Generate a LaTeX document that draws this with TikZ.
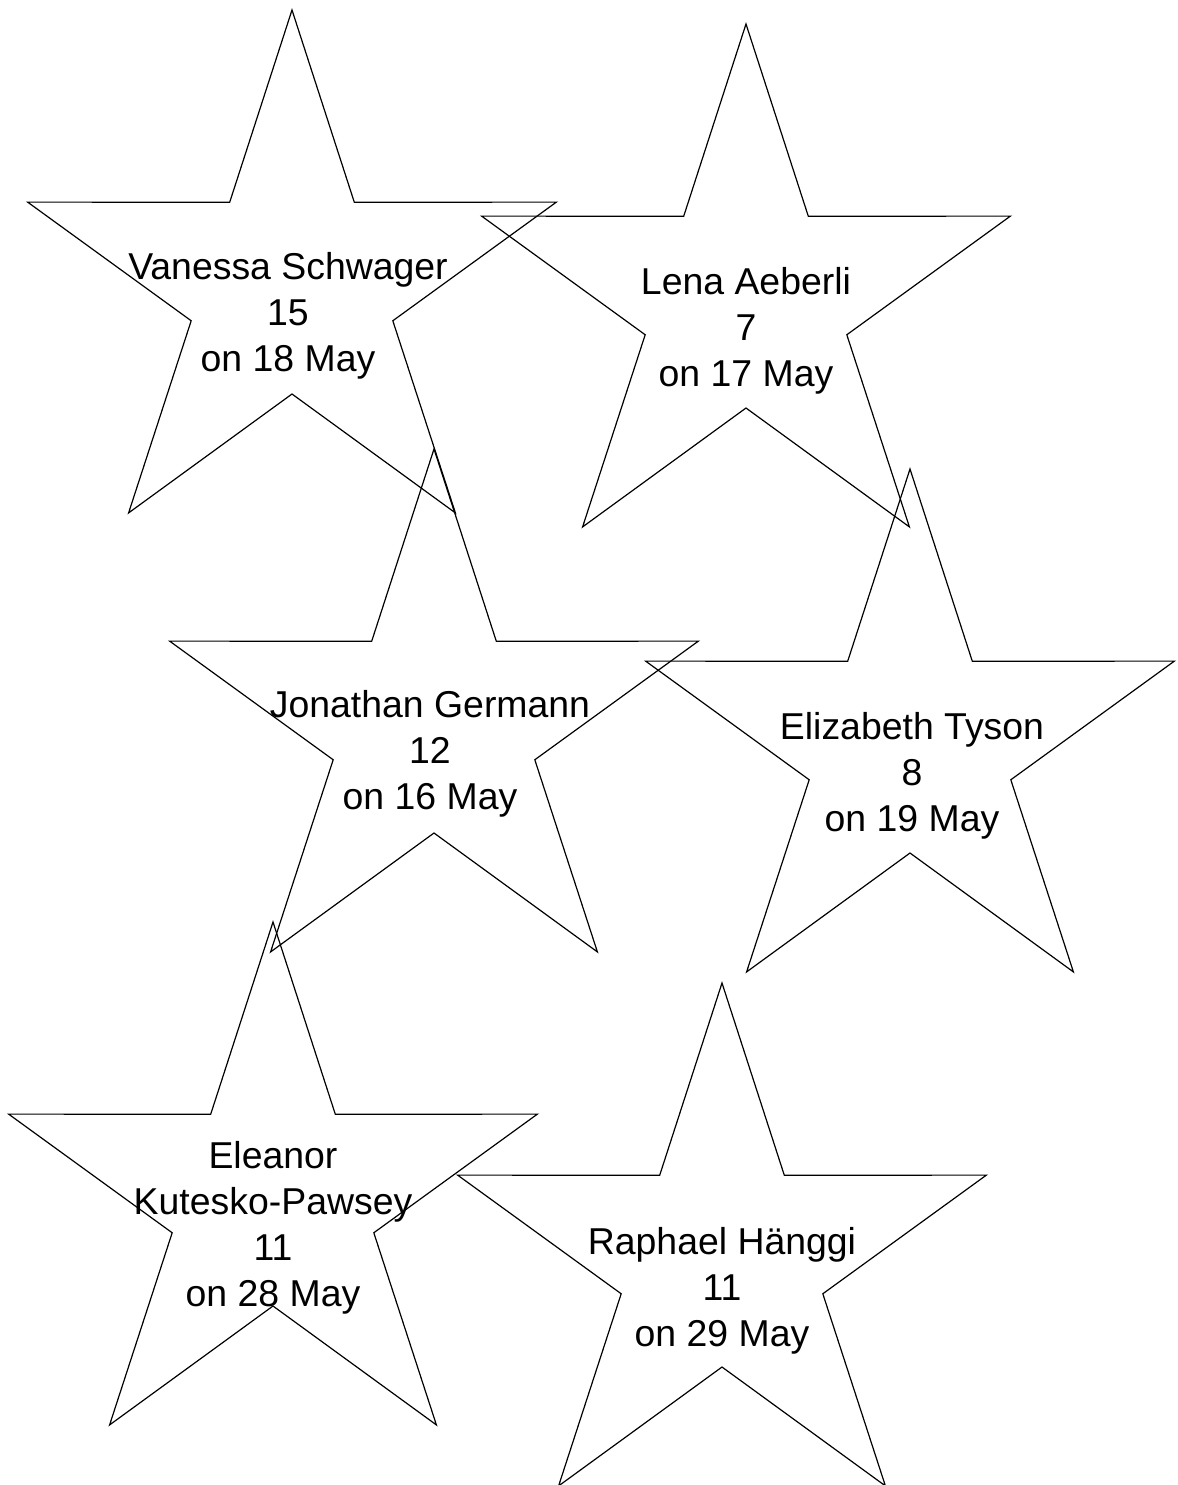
\documentclass[tikz,border=0pt]{standalone}
\usepackage{fontspec}
\setmainfont{Liberation Sans}
\begin{document}
\begin{tikzpicture}[x=0.5pt,y=-0.5pt,
  starline/.style={draw=black,line width=0.6pt,line join=miter},
  label/.style={font=\fontsize{18.7}{22.9}\selectfont,align=center,inner sep=0pt,text=black},
  pics/fivestar/.style={code={
    \draw[starline] (-90:278) -- (-54:106) -- (-18:278) -- (18:106) -- (54:278)
      -- (90:106) -- (126:278) -- (162:106) -- (198:278) -- (234:106) -- cycle;
  }}]
\useasboundingbox (0,0) rectangle (1178,1485);
\coordinate (c1) at (292,288);
\coordinate (c2) at (746,302);
\coordinate (c3) at (434,727);
\coordinate (c4) at (910,747);
\coordinate (c5) at (273,1200);
\coordinate (c6) at (722,1261);
\pic at (c1) {fivestar};
\pic at (c2) {fivestar};
\pic at (c3) {fivestar};
\pic at (c4) {fivestar};
\pic at (c5) {fivestar};
\pic at (c6) {fivestar};
\node[label] (t1) at (288,316) {Vanessa Schwager\\15\\on 18 May};
\node[label] (t2) at (746,331) {Lena Aeberli\\7\\on 17 May};
\node[label] (t3) at (430,754) {Jonathan Germann\\12\\on 16 May};
\node[label] (t4) at (912,776) {Elizabeth Tyson\\8\\on 19 May};
\node[label] (t5) at (273,1228) {Eleanor\\Kutesko-Pawsey\\11\\on 28 May};
\node[label] (t6) at (722,1291) {Raphael Hänggi\\11\\on 29 May};
\end{tikzpicture}
\end{document}
